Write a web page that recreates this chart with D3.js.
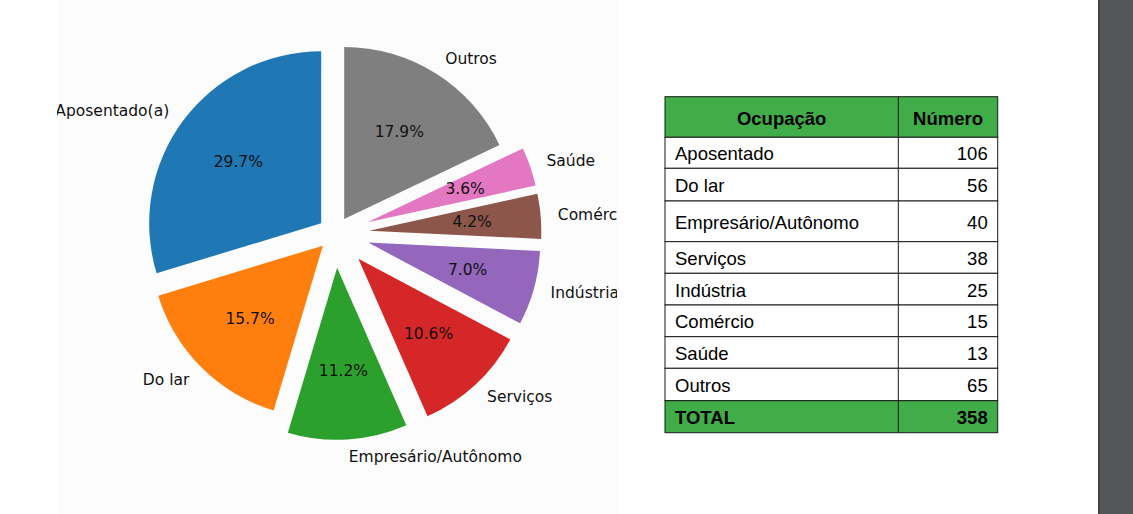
<!DOCTYPE html>
<html>
<head>
<meta charset="utf-8">
<script src="https://cdn.jsdelivr.net/npm/d3@7"></script>
<style>
  body { margin: 0; background: #ffffff; }
  svg { display: block; }
</style>
</head>
<body>
<svg id="chart" width="1133" height="514"></svg>
<script>
// Pie data (as plotted)
const occupations = ["Aposentado(a)", "Do lar", "Empresário/Autônomo", "Serviços", "Indústria", "Comércio", "Saúde", "Outros"];
const pieValues = [106, 56, 40, 38, 25, 15, 13, 64];
const explode = [0.1, 0.1, 0.2, 0.2, 0.2, 0.2, 0.2, 0.1];
const colors = ["#1f77b4", "#ff7f0e", "#2ca02c", "#d62728", "#9467bd", "#8c564b", "#e377c2", "#7f7f7f"];

// Table data
const tableHeader = ["Ocupação", "Número"];
const tableLabels = ["Aposentado", "Do lar", "Empresário/Autônomo", "Serviços", "Indústria", "Comércio", "Saúde", "Outros"];
const tableValues = [106, 56, 40, 38, 25, 15, 13, 65];
const totalLabel = "TOTAL";

document.addEventListener("DOMContentLoaded", () => {
    const svg = d3.select("#chart");

    // page background pieces
    svg.append("rect").attr("x", 57).attr("y", 0).attr("width", 560).attr("height", 514).attr("fill", "#fcfcfc");
    svg.append("rect").attr("x", 1098).attr("y", 0).attr("width", 35).attr("height", 514).attr("fill", "#53575a");
    svg.append("rect").attr("x", 1098).attr("y", 0).attr("width", 2).attr("height", 514).attr("fill", "#444749");

    // ---- pie ----
    const cx = 335, cy = 233.5, r = 172;
    const font = "'DejaVu Sans', sans-serif";

    svg.append("clipPath").attr("id", "pie-clip")
        .append("rect").attr("x", 57).attr("y", 0).attr("width", 560).attr("height", 514);

    const pie = d3.pie().sort(null).startAngle(0).endAngle(-2 * Math.PI);
    const arcs = pie(pieValues);
    const total = d3.sum(pieValues);
    const arc = d3.arc().innerRadius(0).outerRadius(r);

    const g = svg.append("g")
        .attr("clip-path", "url(#pie-clip)")
        .append("g")
        .attr("transform", `translate(${cx},${cy})`);

    const slice = g.selectAll(".slice")
        .data(arcs)
        .enter()
        .append("g")
        .attr("class", "slice")
        .each(function(d, i) {
            const mid = (d.startAngle + d.endAngle) / 2;
            d.dx = Math.sin(mid);
            d.dy = -Math.cos(mid);
            d.off = explode[i] * r;
        });

    slice.append("path")
        .attr("d", arc)
        .attr("transform", d => `translate(${d.dx * d.off},${d.dy * d.off})`)
        .attr("fill", (d, i) => colors[i]);

    slice.append("text")
        .attr("x", d => d.dx * (d.off + 1.1 * r))
        .attr("y", d => d.dy * (d.off + 1.1 * r))
        .attr("text-anchor", d => d.dx >= 0 ? "start" : "end")
        .attr("dominant-baseline", "central")
        .style("font-family", font)
        .style("font-size", "15.5px")
        .attr("fill", "#111")
        .text((d, i) => occupations[i]);

    slice.append("text")
        .attr("x", d => d.dx * (d.off + 0.6 * r))
        .attr("y", d => d.dy * (d.off + 0.6 * r))
        .attr("text-anchor", "middle")
        .attr("dominant-baseline", "central")
        .style("font-family", font)
        .style("font-size", "15.5px")
        .attr("fill", "#111")
        .text(d => (d.value / total * 100).toFixed(1) + "%");

    // ---- table ----
    const tx0 = 665, tx1 = 898.3, tx2 = 997.7, ty0 = 96.7;
    const rowHeights = [40.6, 31, 32.7, 40.7, 31.6, 31.7, 31.7, 31.6, 32.4, 32];
    const rows = [
        { a: tableHeader[0], b: tableHeader[1], head: true },
        ...tableLabels.map((l, i) => ({ a: l, b: tableValues[i], head: false })),
        { a: totalLabel, b: d3.sum(tableValues), head: false, total: true }
    ];
    let yy = ty0;
    rows.forEach((row, i) => { row.y = yy; row.h = rowHeights[i]; yy += rowHeights[i]; });

    const tfont = "'Liberation Sans', Arial, sans-serif";
    const tg = svg.append("g");

    const tr = tg.selectAll(".row")
        .data(rows)
        .enter()
        .append("g")
        .attr("class", "row");

    tr.append("rect")
        .attr("x", tx0).attr("y", d => d.y)
        .attr("width", tx2 - tx0).attr("height", d => d.h)
        .attr("fill", d => (d.head || d.total) ? "#41ad49" : "#ffffff")
        .attr("stroke", "#1a1a1a").attr("stroke-width", 1);

    tr.append("line")
        .attr("x1", tx1).attr("x2", tx1)
        .attr("y1", d => d.y).attr("y2", d => d.y + d.h)
        .attr("stroke", "#1a1a1a").attr("stroke-width", 1);

    tr.append("text")
        .attr("x", d => d.head ? (tx0 + tx1) / 2 : tx0 + 10)
        .attr("y", d => d.y + d.h / 2 + 1)
        .attr("text-anchor", d => d.head ? "middle" : "start")
        .attr("dominant-baseline", "central")
        .style("font-family", tfont)
        .style("font-size", "18.5px")
        .style("font-weight", d => (d.head || d.total) ? "bold" : "normal")
        .attr("fill", "#000")
        .text(d => d.a);

    tr.append("text")
        .attr("x", d => d.head ? (tx1 + tx2) / 2 : tx2 - 10)
        .attr("y", d => d.y + d.h / 2 + 1)
        .attr("text-anchor", d => d.head ? "middle" : "end")
        .attr("dominant-baseline", "central")
        .style("font-family", tfont)
        .style("font-size", "18.5px")
        .style("font-weight", d => (d.head || d.total) ? "bold" : "normal")
        .attr("fill", "#000")
        .text(d => d.b);
});
</script>
</body>
</html>
